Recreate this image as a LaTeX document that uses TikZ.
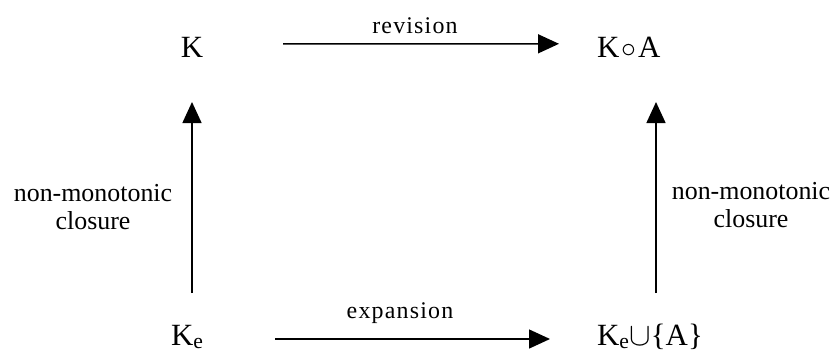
\documentclass[tikz,border=0pt]{standalone}
\usepackage{fontspec}
\setmainfont{Liberation Serif}
\newfontfamily\spacedfont[LetterSpace=5]{Liberation Serif}
\usetikzlibrary{arrows.meta}

\newcommand{\bigop}[2]{\hspace{#2}\scalebox{#1}{$\mathord{\cup}$}\hspace{#2}}
\newcommand{\compop}{\hspace{2bp}\scalebox{1.2}{$\mathord{\circ}$}\hspace{2bp}}

\begin{document}
\begin{tikzpicture}[x=1bp, y=-1bp,
  every node/.style={inner sep=0pt, outer sep=0pt},
  term/.style={font=\fontsize{31}{33}\selectfont},
  side/.style={font=\fontsize{26}{29}\selectfont, align=center},
  oplabel/.style={font=\spacedfont\fontsize{24}{26}\selectfont},
  arr/.style={line width=1.5bp, -{Triangle[length=21bp, width=19bp]}}]
\useasboundingbox (0,0) rectangle (836,352);

% the four knowledge bases
\node[term, anchor=base] (K) at (192,57) {K};
\node[term, anchor=base west] (KA) at (597,57) {K\compop A};
\node[term, anchor=base west] (Ke) at (171,345) {K\textsubscript{e}};
\node[term, anchor=base west] (KeA) at (597,345) {K\textsubscript{e}\bigop{1.3}{0bp}\{A\}};

% operation labels
\node[oplabel, anchor=base] (rev) at (415,33) {revision};
\node[oplabel, anchor=base] (exp) at (400,318) {expansion};
\node[side] (closeL) at (93,207) {non-monotonic\\closure};
\node[side] (closeR) at (751,205) {non-monotonic\\closure};

% horizontal operations
\draw[arr] ([shift={(80,-3)}]K.east) -- ([shift={(-38,-3)}]KA.west);
\draw[arr] ([shift={(72,-6)}]Ke.base east) -- ([shift={(-47,-6)}]KeA.base west);

% closure steps
\draw[arr] ([shift={(21,-52)}]Ke.base west) -- ([shift={(0,45)}]K.base);
\draw[arr] ([shift={(59,-52)}]KeA.base west) -- ([shift={(59,45)}]KA.base west);
\end{tikzpicture}
\end{document}
